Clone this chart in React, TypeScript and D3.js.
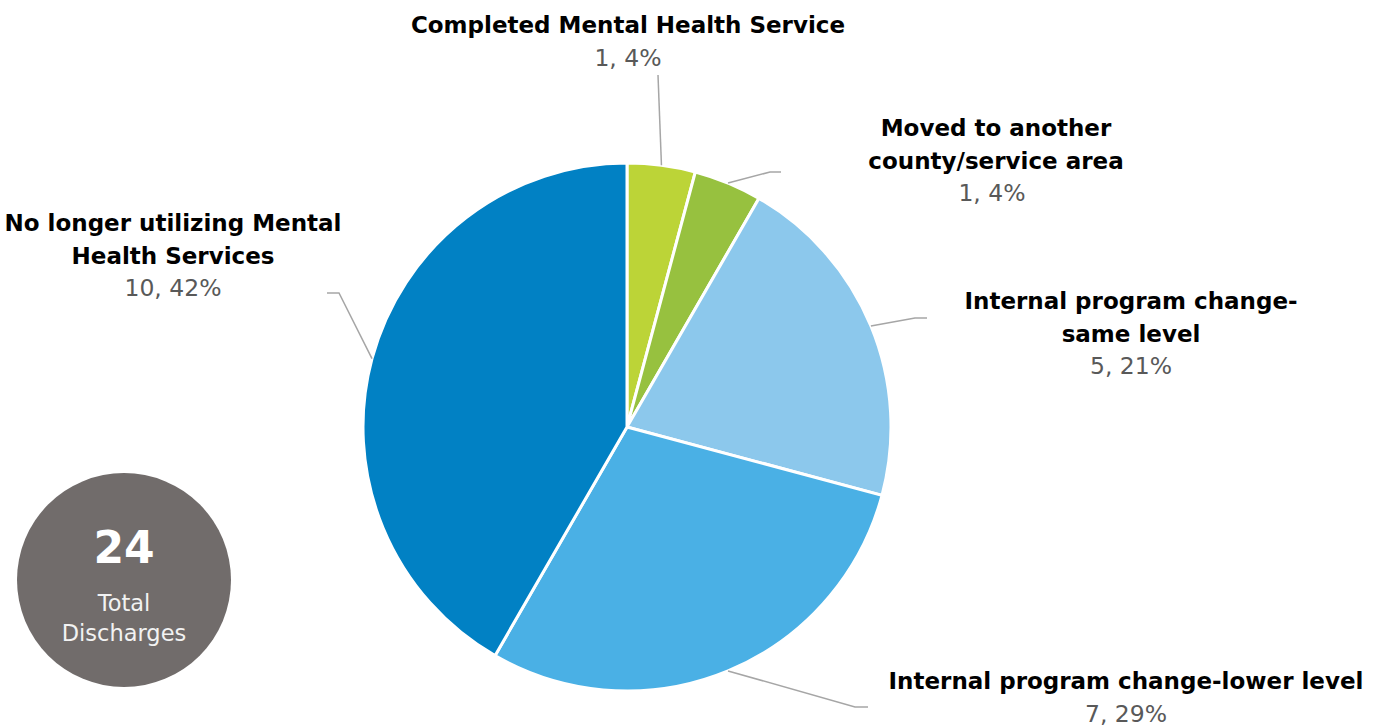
import React from 'react'
import * as d3 from 'd3'

// discharge reasons, clockwise from 12 o'clock
const categories = [
  'Completed Mental Health Service',
  'Moved to another county/service area',
  'Internal program change-same level',
  'Internal program change-lower level',
  'No longer utilizing Mental Health Services',
]
const counts = [1, 1, 5, 7, 10]
const percents = ['4%', '4%', '21%', '29%', '42%']
const totalDischarges = 24
const colors = ['#bcd437', '#97c13f', '#8cc8ec', '#4ab0e5', '#0181c4']

// label lines as wrapped in the reference
const labelLines = [
  ['Completed Mental Health Service'],
  ['Moved to another', 'county/service area'],
  ['Internal program change-', 'same level'],
  ['Internal program change-lower level'],
  ['No longer utilizing Mental', 'Health Services'],
]

const width = 1383
const height = 727
const cx = 627
const cy = 427
const radius = 264

// label anchor (center x, first baseline y) and leader elbow / end
const labelPos = [
  { x: 628, y: 33 },
  { x: 996, y: 136 },
  { x: 1131, y: 309 },
  { x: 1126, y: 689 },
  { x: 173, y: 231 },
]
const leaders = [
  { elbow: [658, 75], end: [658, 75] },
  { elbow: [770, 172], end: [781, 172] },
  { elbow: [915, 318], end: [927, 318] },
  { elbow: [855, 707], end: [868, 707] },
  { elbow: [339, 293], end: [327, 293] },
]

const font = '"DejaVu Sans", sans-serif'
const lineH = 32.5

export default function App() {
  const pie = d3.pie<number>().sort(null).value(d => d)
  const arcs = pie(counts)
  const arc = d3.arc<d3.PieArcDatum<number>>().innerRadius(0).outerRadius(radius)

  return (
    <svg
      width={width}
      height={height}
      style={{ position: 'absolute', left: 0, top: 0, background: '#fff' }}
    >
      <g transform={`translate(${cx},${cy})`}>
        {arcs.map((a, i) => (
          <path key={i} d={arc(a) || ''} fill={colors[i]} stroke="#fff" strokeWidth={3} />
        ))}
      </g>

      {/* leader lines */}
      {arcs.map((a, i) => {
        const mid = (a.startAngle + a.endAngle) / 2
        const sx = cx + radius * Math.sin(mid)
        const sy = cy - radius * Math.cos(mid)
        const { elbow, end } = leaders[i]
        return (
          <polyline
            key={i}
            points={`${sx},${sy} ${elbow[0]},${elbow[1]} ${end[0]},${end[1]}`}
            fill="none"
            stroke="#a6a6a6"
            strokeWidth={1.5}
          />
        )
      })}

      {/* labels */}
      {labelLines.map((lines, i) => {
        const p = labelPos[i]
        return (
          <g key={i} textAnchor="middle">
            {lines.map((l, j) => (
              <text
                key={j}
                x={p.x}
                y={p.y + j * lineH}
                fontFamily={font}
                fontWeight="bold"
                fontSize={23}
                fill="#000"
              >
                {l}
              </text>
            ))}
            <text
              x={p.x - (i === 1 ? 4 : 0)}
              y={p.y + lines.length * lineH}
              fontFamily={font}
              fontSize={23.5}
              fill="#595959"
            >
              {`${counts[i]}, ${percents[i]}`}
            </text>
          </g>
        )
      })}

      {/* total badge */}
      <g textAnchor="middle">
        <circle cx={124} cy={580} r={107} fill="#716c6b" />
        <text x={124} y={563} fontFamily={font} fontWeight="bold" fontSize={44} fill="#fff">
          {totalDischarges}
        </text>
        <text x={124} y={611} fontFamily={font} fontSize={22.5} fill="#f2f2f2">
          Total
        </text>
        <text x={124} y={641} fontFamily={font} fontSize={22.5} fill="#f2f2f2">
          Discharges
        </text>
      </g>
    </svg>
  )
}
